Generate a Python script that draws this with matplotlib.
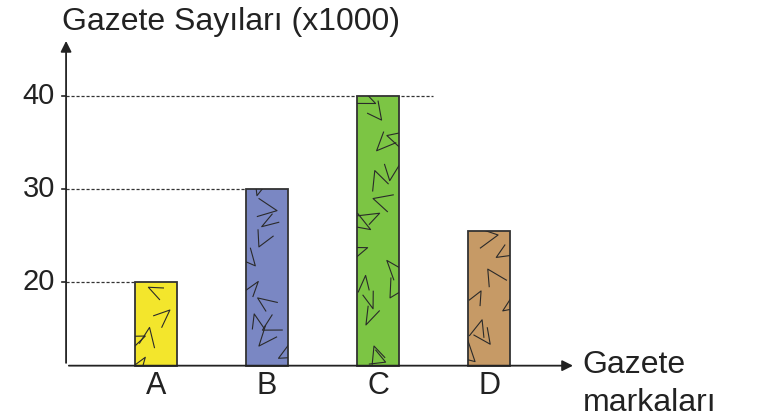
import numpy as np
import matplotlib
matplotlib.use('Agg')
import matplotlib.pyplot as plt

# chart data
brands = ['A', 'B', 'C', 'D']
counts = [20, 30, 40, 25.5]           # thousands of newspapers
bar_colors = ['#F3E62C', '#7A87C3', '#7CC544', '#C69A66']
y_ticks = [20, 30, 40]

base = 11
plt.rcParams['font.family'] = ['Liberation Sans', 'DejaVu Sans']

fig = plt.figure(figsize=(7.59, 4.2), dpi=100)
ax = fig.add_axes([0, 0, 1, 1])
ax.set_xlim(-1.405, 5.43)
ax.set_ylim(5.16, 50.3)
ax.axis('off')

x = np.arange(len(brands))
bw = 0.38
bars = ax.bar(x, [c - base for c in counts], bottom=base, width=bw,
              color=bar_colors, edgecolor='#333333', linewidth=1.3, zorder=3)

# scribbled texture inside the bars (decoration only)
yx = 111 / 9.3   # y units per x unit, so strokes look isotropic
rng = np.random.default_rng(11)
for rect, c in zip(bars, counts):
    x0 = rect.get_x()
    n = max(4, int((c - base) / 1.7))
    for k in range(n):
        cx = x0 + rng.uniform(0.06, bw - 0.06)
        cy = base + (k + rng.uniform(0.2, 0.8)) * (c - base) / n
        a = rng.uniform(0, 2 * np.pi)
        b = a + rng.choice([-1, 1]) * rng.uniform(0.6, 1.0)
        l1, l2 = rng.uniform(0.13, 0.2, 2)
        px = [cx + l1 * np.cos(a), cx, cx + l2 * np.cos(b)]
        py = [cy + l1 * yx * np.sin(a), cy, cy + l2 * yx * np.sin(b)]
        ln, = ax.plot(px, py, color='#2a2a2a', lw=0.8, zorder=4)
        ln.set_clip_path(rect)

# axes drawn as arrows
yax_x = -0.81
ax.annotate('', xy=(yax_x, 46.2), xytext=(yax_x, base),
            arrowprops=dict(arrowstyle='-|>', color='#222222', lw=1.3,
                            mutation_scale=16), zorder=5)
ax.annotate('', xy=(3.78, base), xytext=(yax_x, base),
            arrowprops=dict(arrowstyle='-|>', color='#222222', lw=1.3,
                            mutation_scale=16), zorder=5)

# dashed guide lines and ticks
guide_end = [x[0] - bw / 2, x[1] - bw / 2, 2.49]
for t, xe in zip(y_ticks, guide_end):
    ax.plot([yax_x, xe], [t, t], ls=(0, (2.5, 1.5)), color='#333333', lw=0.9, zorder=2)
    ax.plot([yax_x - 0.035, yax_x], [t, t], color='#222222', lw=1.2, zorder=5)
    ax.text(yax_x - 0.1, t, str(t), ha='right', va='center', fontsize=21, color='#222222')

for xi, name in zip(x, brands):
    ax.text(xi, 8.8, name, ha='center', va='center', fontsize=22, color='#222222')

ax.text(yax_x - 0.04, 47.9, 'Gazete Sayıları (x1000)', ha='left', va='center',
        fontsize=23, color='#222222')
ax.text(3.84, 11.1, 'Gazete', ha='left', va='center', fontsize=23, color='#222222')
ax.text(3.84, 7.0, 'markaları', ha='left', va='center', fontsize=23, color='#222222')

fig.savefig('out.png', dpi=100)
